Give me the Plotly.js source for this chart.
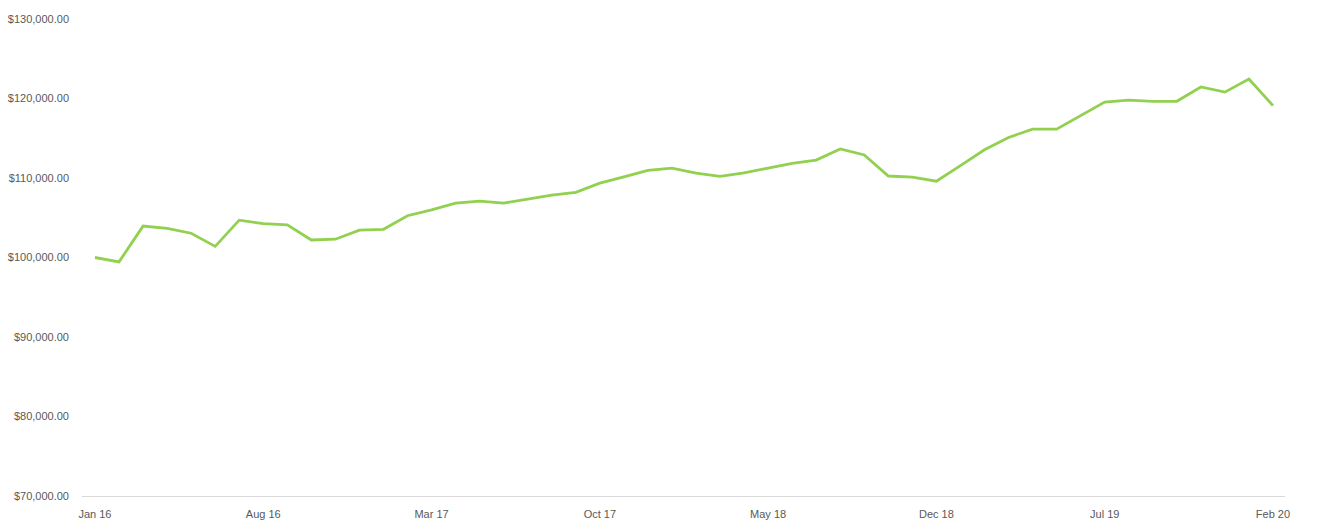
<!DOCTYPE html>
<html>
<head>
<meta charset="utf-8">
<script src="https://cdn.plot.ly/plotly-3.0.1.min.js"></script>
<style>html,body{margin:0;padding:0;background:#fff;}#chart{width:1317px;height:532px;}</style>
</head>
<body>
<div id="chart"></div>
<script>
const months = ["Jan 16","Feb 16","Mar 16","Apr 16","May 16","Jun 16","Jul 16","Aug 16","Sep 16","Oct 16","Nov 16","Dec 16",
"Jan 17","Feb 17","Mar 17","Apr 17","May 17","Jun 17","Jul 17","Aug 17","Sep 17","Oct 17","Nov 17","Dec 17",
"Jan 18","Feb 18","Mar 18","Apr 18","May 18","Jun 18","Jul 18","Aug 18","Sep 18","Oct 18","Nov 18","Dec 18",
"Jan 19","Feb 19","Mar 19","Apr 19","May 19","Jun 19","Jul 19","Aug 19","Sep 19","Oct 19","Nov 19","Dec 19",
"Jan 20","Feb 20"];
const values = [100000,99450,103950,103650,103050,101400,104700,104250,104100,102200,102300,103450,
103550,105250,106000,106850,107100,106850,107350,107850,108200,109350,110150,110950,
111250,110600,110200,110650,111250,111850,112250,113650,112900,110250,110100,109600,
111550,113550,115100,116150,116150,117850,119550,119800,119650,119650,121450,120800,
122450,119100];
const tickLabels = ["Jan 16","Aug 16","Mar 17","Oct 17","May 18","Dec 18","Jul 19","Feb 20"];
const yTicks = [70000,80000,90000,100000,110000,120000,130000];

const xIdx = months.map((m,i)=>i);
const tickIdx = tickLabels.map(t=>months.indexOf(t));

const trace = {
  x: xIdx, y: values, type: 'scatter', mode: 'lines',
  line: {color: '#92D050', width: 2.8},
  hoverinfo: 'skip'
};
const font = {family: 'Liberation Sans, Arial, sans-serif', size: 11, color: '#595959'};
const layout = {
  width: 1317, height: 532,
  margin: {l: 82, r: 32, t: 19, b: 36},
  paper_bgcolor: '#fff', plot_bgcolor: '#fff',
  showlegend: false,
  font: font,
  xaxis: {
    range: [-0.54, 49.5],
    tickmode: 'array', tickvals: tickIdx, ticktext: tickLabels,
    showgrid: false, zeroline: false,
    showline: true, linecolor: '#d9d9d9', linewidth: 1,
    ticks: '', ticklabelstandoff: 8,
    tickfont: font
  },
  yaxis: {
    range: [70000, 130000],
    tickmode: 'array', tickvals: yTicks,
    tickformat: '$,.2f',
    showgrid: false, zeroline: false, showline: false,
    ticks: '', ticklabelstandoff: 12,
    tickfont: font
  }
};
Plotly.newPlot('chart', [trace], layout, {displayModeBar: false, staticPlot: true});
</script>
</body>
</html>
